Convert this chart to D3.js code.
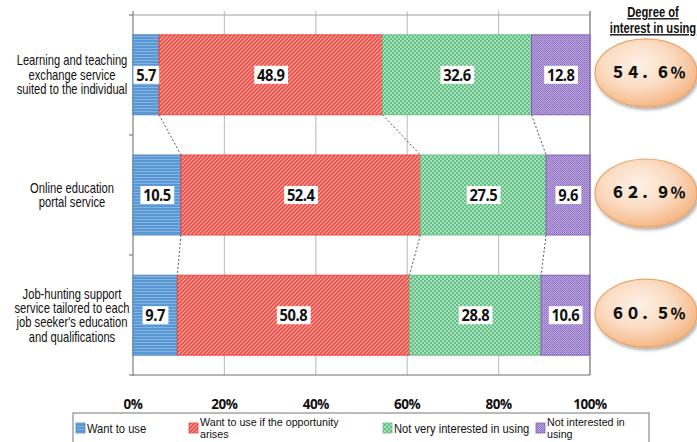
<!DOCTYPE html>
<html>
<head>
<meta charset="utf-8">
<script src="https://cdn.jsdelivr.net/npm/d3@7"></script>
<style>
  html, body { margin: 0; padding: 0; background: #fff; }
  svg { display: block; }
</style>
</head>
<body>
<div id="chart"></div>
<script>
// Survey answers: share of respondents per attitude, for each service
const categories = [
  ["Learning and teaching", "exchange service", "suited to the individual"],
  ["Online education", "portal service"],
  ["Job-hunting support", "service tailored to each", "job seeker's education", "and qualifications"]
];
const seriesNames = [
  ["Want to use"],
  ["Want to use if the opportunity", "arises"],
  ["Not very interested in using"],
  ["Not interested in", "using"]
];
const wantToUse       = [5.7, 10.5, 9.7];
const wantIfOpportune = [48.9, 52.4, 50.8];
const notVery         = [32.6, 27.5, 28.8];
const notInterested   = [12.8, 9.6, 10.6];
const interestDegree  = ["５４．６％", "６２．９％", "６０．５％"];
const tickValues = [0, 20, 40, 60, 80, 100];

const series = [wantToUse, wantIfOpportune, notVery, notInterested];
const W = 697, H = 442;

const svg = d3.select("#chart").append("svg").attr("width", W).attr("height", H);
const defs = svg.append("defs");

// Fill patterns for each answer
function pat(id, w, h, build) {
  const p = defs.append("pattern").attr("id", id).attr("patternUnits", "userSpaceOnUse")
    .attr("width", w).attr("height", h);
  build(p);
}
pat("pBlue", 3, 3, p => {
  p.append("rect").attr("width", 3).attr("height", 3).attr("fill", "#5a98d4");
  p.append("rect").attr("width", 3).attr("height", 1).attr("fill", "#86b4e2");
});
pat("pRed", 4, 4, p => {
  p.append("rect").attr("width", 4).attr("height", 4).attr("fill", "#ef4a44");
  p.append("path").attr("d", "M-1,1 L1,-1 M0,4 L4,0 M3,5 L5,3").attr("stroke", "#fbb0a8").attr("stroke-width", 1.1);
});
pat("pGreen", 4, 4, p => {
  p.append("rect").attr("width", 4).attr("height", 4).attr("fill", "#ffffff");
  p.append("rect").attr("x", 0).attr("y", 0).attr("width", 2).attr("height", 2).attr("fill", "#62c086");
  p.append("rect").attr("x", 2).attr("y", 2).attr("width", 2).attr("height", 2).attr("fill", "#62c086");
  p.append("rect").attr("x", 2).attr("y", 0).attr("width", 2).attr("height", 2).attr("fill", "#a8e0bb");
  p.append("rect").attr("x", 0).attr("y", 2).attr("width", 2).attr("height", 2).attr("fill", "#a8e0bb");
});
pat("pPurple", 2, 2, p => {
  p.append("rect").attr("width", 2).attr("height", 2).attr("fill", "#b9a6dc");
  p.append("rect").attr("width", 1).attr("height", 1).attr("fill", "#8c6cc0");
  p.append("rect").attr("x", 1).attr("y", 1).attr("width", 1).attr("height", 1).attr("fill", "#9a7cc9");
});
const fills = ["url(#pBlue)", "url(#pRed)", "url(#pGreen)", "url(#pPurple)"];
const strokes = ["#4a86c5", "#e8453c", "#6cc08a", "#8460b8"];

// Bubble gradient
const grad = defs.append("radialGradient").attr("id", "bubble")
  .attr("cx", "42%").attr("cy", "38%").attr("r", "62%");
grad.append("stop").attr("offset", "0%").attr("stop-color", "#fef1e6");
grad.append("stop").attr("offset", "55%").attr("stop-color", "#fbdcc3");
grad.append("stop").attr("offset", "100%").attr("stop-color", "#f5b887");
const shadow = defs.append("filter").attr("id", "shadow").attr("x", "-20%").attr("y", "-20%").attr("width", "150%").attr("height", "160%");
shadow.append("feDropShadow").attr("dx", 1.5).attr("dy", 2.5).attr("stdDeviation", 1.5).attr("flood-color", "#000").attr("flood-opacity", 0.3);

const x = d3.scaleLinear().domain([0, 100]).range([133, 590]);
const y = d3.scaleBand().domain(d3.range(categories.length)).range([15, 375])
  .paddingInner(0.335).paddingOuter(0.165);

const g = svg.append("g");

// Narrow text: a horizontally squeezed group anchored at (ax, 0)
const narrowFont = "'Liberation Sans', sans-serif";
function narrowText(parent, ax, squeeze) {
  return parent.append("g").attr("transform", `translate(${ax},0) scale(${squeeze},1)`)
    .append("text").attr("font-family", narrowFont);
}

// Gridlines
g.selectAll(".grid").data(tickValues.slice(1, -1)).join("line")
  .attr("x1", d => x(d)).attr("x2", d => x(d)).attr("y1", 11).attr("y2", 375)
  .attr("stroke", "#c4c4c4").attr("stroke-width", 1.2);
// Top and right frame
g.append("line").attr("x1", x(0)).attr("x2", x(100)).attr("y1", 15).attr("y2", 15)
  .attr("stroke", "#a0a0a0").attr("stroke-width", 1.2);
g.append("line").attr("x1", x(100)).attr("x2", x(100)).attr("y1", 11).attr("y2", 375)
  .attr("stroke", "#6e6e6e").attr("stroke-width", 1.2);
// Left axis with category boundary ticks
g.append("line").attr("x1", x(0)).attr("x2", x(0)).attr("y1", 11).attr("y2", 376)
  .attr("stroke", "#808080").attr("stroke-width", 1.2);
const bounds = d3.range(categories.length + 1).map(i => 15 + i * 120);
g.selectAll(".ytick").data(bounds).join("line")
  .attr("x1", x(0) - 4).attr("x2", x(0)).attr("y1", d => d).attr("y2", d => d)
  .attr("stroke", "#808080").attr("stroke-width", 1.2);
// Bottom axis line
g.append("line").attr("x1", x(0)).attr("x2", x(100)).attr("y1", 375).attr("y2", 375)
  .attr("stroke", "#707070").attr("stroke-width", 1.2);

// Stacked segments
const stacks = categories.map((c, i) => {
  let acc = 0;
  return series.map((s, k) => {
    const seg = { row: i, k, v: s[i], x0: acc, x1: acc + s[i] };
    acc += s[i];
    return seg;
  });
});

// Dashed connectors between neighbouring bars
for (let i = 0; i < categories.length - 1; i++) {
  for (let k = 0; k < 3; k++) {
    g.append("line")
      .attr("x1", x(stacks[i][k].x1)).attr("y1", y(i) + y.bandwidth())
      .attr("x2", x(stacks[i + 1][k].x1)).attr("y2", y(i + 1))
      .attr("stroke", "#555").attr("stroke-width", 1).attr("stroke-dasharray", "2,2");
  }
}

const segs = stacks.flat();
g.selectAll(".seg").data(segs).join("rect")
  .attr("x", d => x(d.x0)).attr("width", d => x(d.x1) - x(d.x0))
  .attr("y", d => y(d.row)).attr("height", y.bandwidth())
  .attr("fill", d => fills[d.k]).attr("stroke", d => strokes[d.k]).attr("stroke-width", 1);

// Value labels on white boxes
const labelFont = "'Open Sans', 'Liberation Sans', sans-serif";
const lab = g.selectAll(".lab").data(segs).join("g")
  .attr("transform", d => `translate(${(x(d.x0) + x(d.x1)) / 2},${y(d.row) + y.bandwidth() / 2}) scale(0.92,1)`);
lab.append("text").text(d => d.v.toFixed(1))
  .attr("text-anchor", "middle").attr("dy", "0.36em")
  .attr("font-family", labelFont).attr("font-weight", "bold").attr("font-size", 16)
  .attr("fill", "#111").attr("letter-spacing", -0.5);
lab.each(function () {
  const t = d3.select(this).select("text");
  const b = t.node().getBBox();
  d3.select(this).insert("rect", "text")
    .attr("x", b.x - 3).attr("y", -9).attr("width", b.width + 6).attr("height", 18)
    .attr("fill", "#fff");
});

// Category labels
categories.forEach((lines, i) => {
  const cy = y(i) + y.bandwidth() / 2;
  const lh = 14.4;
  const t = narrowText(g, 72, 0.8).attr("text-anchor", "middle")
    .attr("font-size", 14).attr("fill", "#111");
  lines.forEach((ln, j) => {
    t.append("tspan").attr("x", 0).attr("y", cy + (j - (lines.length - 1) / 2) * lh + 5).text(ln);
  });
});

// X tick labels
tickValues.forEach(d => {
  g.append("g").attr("transform", `translate(${x(d)},0) scale(0.9,1)`).append("text")
    .attr("x", 0).attr("y", 409).attr("text-anchor", "middle")
    .attr("font-family", labelFont).attr("font-weight", "bold").attr("font-size", 15)
    .attr("letter-spacing", -0.5).attr("fill", "#111").text(d + "%");
});

// Degree of interest title and bubbles
const title = narrowText(g, 653, 0.8).attr("text-anchor", "middle")
  .attr("font-weight", "bold").attr("font-size", 14)
  .attr("text-decoration", "underline").attr("fill", "#111");
title.append("tspan").attr("x", 0).attr("y", 17).text("Degree of");
title.append("tspan").attr("x", 0).attr("y", 33).text("interest in using");

interestDegree.forEach((v, i) => {
  const cy = y(i) + y.bandwidth() / 2 - 2;
  g.append("ellipse").attr("cx", 646).attr("cy", cy).attr("rx", 51).attr("ry", 34)
    .attr("fill", "url(#bubble)").attr("stroke", "#eba468").attr("stroke-width", 1.2)
    .attr("filter", "url(#shadow)");
  g.append("text").attr("x", 648).attr("y", cy).attr("dy", "0.36em").attr("text-anchor", "middle")
    .attr("font-family", "'Noto Sans CJK JP', sans-serif").attr("font-weight", "900")
    .attr("font-size", 15).attr("fill", "#111").text(v);
});

// Legend
const leg = g.append("g");
leg.append("rect").attr("x", 73).attr("y", 413).attr("width", 576).attr("height", 40)
  .attr("fill", "#fff").attr("stroke", "#8c8c8c").attr("stroke-width", 1.2);
const legX = [76, 189, 383, 536];
seriesNames.forEach((lines, k) => {
  leg.append("rect").attr("x", legX[k]).attr("y", 423).attr("width", 9).attr("height", 10)
    .attr("fill", fills[k]).attr("stroke", strokes[k]).attr("stroke-width", 0.8);
  if (lines.length === 1) {
    narrowText(leg, legX[k] + 11, 0.86).attr("font-size", 13).attr("fill", "#111")
      .append("tspan").attr("x", 0).attr("y", 433).text(lines[0]);
  } else {
    // each line of a wrapped legend entry is its own text element
    lines.forEach((ln, j) => narrowText(leg, legX[k] + 11, 0.93)
      .attr("font-size", 11.5).attr("fill", "#111")
      .attr("x", 0).attr("y", 426 + j * 12).text(ln));
  }
});
</script>
</body>
</html>
